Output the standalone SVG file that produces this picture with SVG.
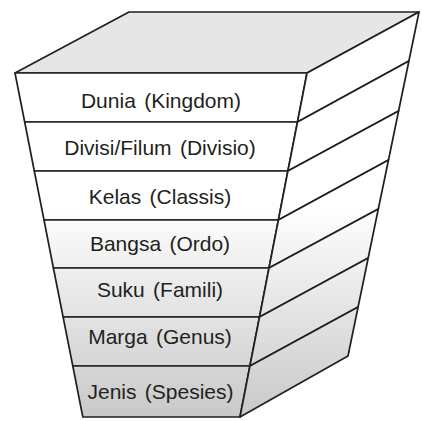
<svg xmlns="http://www.w3.org/2000/svg" width="422" height="421" viewBox="0 0 422 421">
<defs>
<linearGradient id="g" gradientUnits="userSpaceOnUse" x1="0" y1="205" x2="0" y2="420">
<stop offset="0" stop-color="#ffffff"/>
<stop offset="1" stop-color="#c8c8c8"/>
</linearGradient>
</defs>
<style>
.f{fill:url(#g);stroke:#231f20;stroke-width:1.7;stroke-linejoin:round}
.top{fill:#e6e6e6;stroke:#231f20;stroke-width:1.7;stroke-linejoin:round}
text{font-family:"Liberation Sans",Arial,Helvetica,sans-serif;font-size:21px;word-spacing:2.5px;fill:#231f20;text-anchor:middle}
</style>
<g id="top-face">
<polygon class="top" points="129,12 419,12 307,73 15,73"/>
</g>
<g id="dunia">
<polygon class="f" points="15,73 307,73 297.5,122 24.7,122"/>
<polygon class="f" points="307,73 419,12 408.9,61 297.5,122"/>
<text x="161" y="108">Dunia (Kingdom)</text>
</g>
<g id="divisi">
<polygon class="f" points="24.7,122 297.5,122 287.9,171 34.3,171"/>
<polygon class="f" points="297.5,122 408.9,61 398.6,111 287.9,171"/>
<text x="160" y="155">Divisi/Filum (Divisio)</text>
</g>
<g id="kelas">
<polygon class="f" points="34.3,171 287.9,171 278.4,220 44,220"/>
<polygon class="f" points="287.9,171 398.6,111 388.5,160 278.4,220"/>
<text x="160" y="203.5">Kelas (Classis)</text>
</g>
<g id="bangsa">
<polygon class="f" points="44,220 278.4,220 269,268 53.4,268"/>
<polygon class="f" points="278.4,220 388.5,160 378.3,209 269,268"/>
<text x="160" y="250.5">Bangsa (Ordo)</text>
</g>
<g id="suku">
<polygon class="f" points="53.4,268 269,268 259.5,317 63.1,317"/>
<polygon class="f" points="269,268 378.3,209 368.2,258 259.5,317"/>
<text x="160" y="297">Suku (Famili)</text>
</g>
<g id="marga">
<polygon class="f" points="63.1,317 259.5,317 249.9,366 72.8,366"/>
<polygon class="f" points="259.5,317 368.2,258 358.1,307 249.9,366"/>
<text x="160" y="343.5">Marga (Genus)</text>
</g>
<g id="jenis">
<polygon class="f" points="72.8,366 249.9,366 240,417 82.8,417"/>
<polygon class="f" points="249.9,366 358.1,307 348,356 240,417"/>
<text x="160.5" y="398.5">Jenis (Spesies)</text>
</g>
<g id="connectors"/>
</svg>
